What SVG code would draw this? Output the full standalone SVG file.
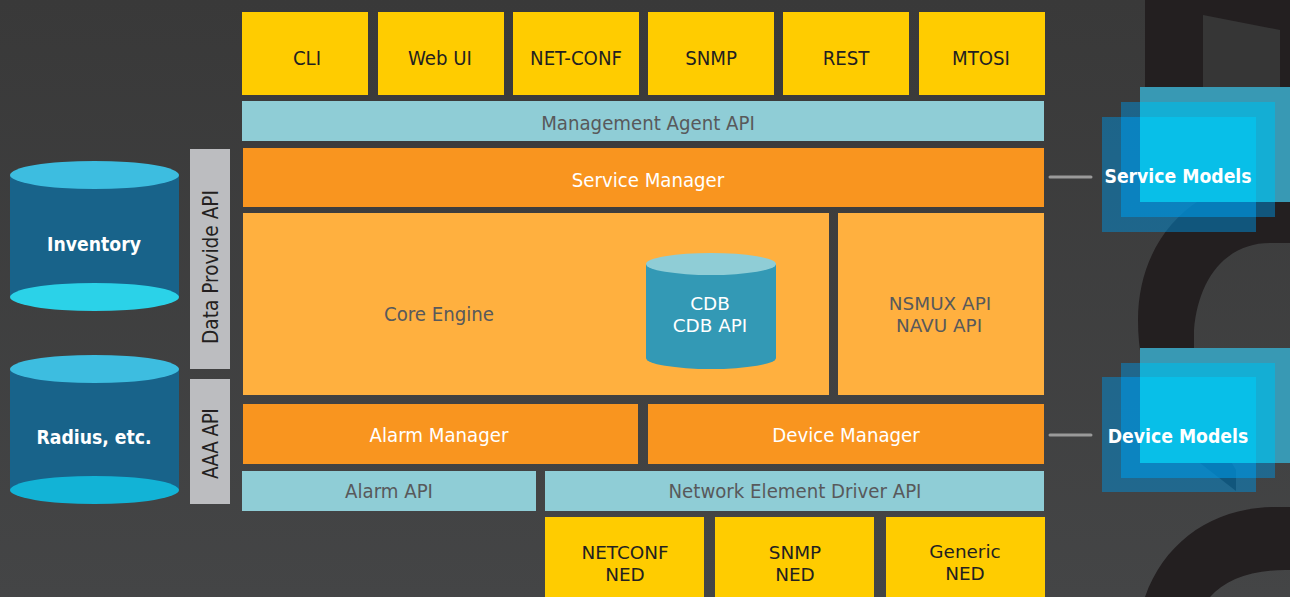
<svg xmlns="http://www.w3.org/2000/svg" width="1290" height="597" viewBox="0 0 1290 597">
<style>
text{font-family:"DejaVu Sans",sans-serif;font-stretch:condensed;font-size:20.2px;text-anchor:middle}
.d{fill:#231f20}.g{fill:#58595b}.w{fill:#fff}.b{font-weight:700;font-size:19.2px}
.r{font-size:20.6px}
.t{font-size:18.4px;font-stretch:normal}
.y{fill:#ffcc00}.a{fill:#8fcdd6}.o{fill:#f9951f}.c{fill:#ffb03f}.s{fill:#bcbdc0}
.cy{fill:#18638a}
.f{fill:#008ed8;fill-opacity:.5}.ov{fill:#00a0eb;fill-opacity:.25}
.bk{fill:#3899b4}.bm{fill:#14aed4}.bf{fill:#08bfe8}
.ln{stroke:#9a9a9a;stroke-width:3;stroke-linecap:round;fill:none}
</style>
<defs><linearGradient id="bg" x1="0" y1="0" x2="0" y2="1"><stop offset="0" stop-color="#393939"/><stop offset="1" stop-color="#444546"/></linearGradient></defs>
<rect width="1290" height="597" fill="url(#bg)"/>
<path fill="#231f20" d="M1145 0H1290V243H1270C1225 243 1198 280 1194 330V400L1236 470V491L1200 463C1160 430 1138 380 1138 320C1138 270 1160 225 1200 200V195H1145Z"/>
<path fill="#363636" d="M1203 15L1280 30V87H1203Z"/>
<path fill="#231f20" d="M1145 597C1165 540 1215 507 1275 507H1290V570H1285C1250 570 1225 580 1210 597Z"/>
<g id="connectors"><path class="ln" d="M1050 177H1091"/><path class="ln" d="M1050 435H1091"/></g>
<g id="cli"><rect class="y" x="242" y="12" width="126" height="83"/><text class="d" x="307" y="65">CLI</text></g>
<g id="webui"><rect class="y" x="378" y="12" width="126" height="83"/><text class="d" x="440" y="65">Web UI</text></g>
<g id="netconf"><rect class="y" x="513" y="12" width="126" height="83"/><text class="d" x="576" y="65">NET-CONF</text></g>
<g id="snmp"><rect class="y" x="648" y="12" width="126" height="83"/><text class="d" x="711" y="65">SNMP</text></g>
<g id="rest"><rect class="y" x="783" y="12" width="126" height="83"/><text class="d" x="846" y="65">REST</text></g>
<g id="mtosi"><rect class="y" x="919" y="12" width="126" height="83"/><text class="d" x="981" y="65">MTOSI</text></g>
<g id="mgmt-api"><rect class="a" x="242" y="101" width="802" height="40"/><text class="g" x="648" y="130">Management Agent API</text></g>
<g id="service-manager"><rect class="o" x="243" y="148" width="801" height="59"/><text class="w" x="648" y="187">Service Manager</text></g>
<g id="core-engine"><rect class="c" x="243" y="213" width="586" height="182"/><text class="g" x="439" y="321">Core Engine</text></g>
<g id="cdb"><path fill="#3399b5" d="M646 264V358A65 11 0 0 0 776 358V264Z"/><ellipse class="a" cx="711" cy="264" rx="65" ry="11"/><text class="w t"><tspan x="710" y="310">CDB</tspan><tspan x="710" y="331.500">CDB API</tspan></text></g>
<g id="nsmux"><rect class="c" x="838" y="213" width="206" height="182"/><text class="g t"><tspan x="940" y="310">NSMUX API</tspan><tspan x="939" y="331.500">NAVU API</tspan></text></g>
<g id="alarm-manager"><rect class="o" x="243" y="404" width="395" height="60"/><text class="w" x="439" y="442">Alarm Manager</text></g>
<g id="device-manager"><rect class="o" x="648" y="404" width="396" height="60"/><text class="w" x="846" y="442">Device Manager</text></g>
<g id="alarm-api"><rect class="a" x="242" y="471" width="294" height="40"/><text class="g" x="389" y="498">Alarm API</text></g>
<g id="ned-api"><rect class="a" x="545" y="471" width="499" height="40"/><text class="g" x="795" y="498">Network Element Driver API</text></g>
<g id="netconf-ned"><rect class="y" x="545" y="517" width="159" height="80"/><text class="d t"><tspan x="625" y="559">NETCONF</tspan><tspan x="625" y="580.500">NED</tspan></text></g>
<g id="snmp-ned"><rect class="y" x="715" y="517" width="159" height="80"/><text class="d t"><tspan x="795" y="559">SNMP</tspan><tspan x="795" y="580.500">NED</tspan></text></g>
<g id="generic-ned"><rect class="y" x="886" y="517" width="159" height="80"/><text class="d t"><tspan x="965" y="558">Generic</tspan><tspan x="965" y="579.500">NED</tspan></text></g>
<g id="data-provide-api"><rect class="s" x="190" y="149" width="40" height="220"/><text class="d r" transform="translate(218 267) rotate(-90)">Data Provide API</text></g>
<g id="aaa-api"><rect class="s" x="190" y="379" width="40" height="125"/><text class="d r" letter-spacing="-.6" transform="translate(218 444) rotate(-90)">AAA API</text></g>
<g id="inventory"><path class="cy" d="M10 175H179V297H10Z"/><ellipse cx="94.500" cy="175" rx="84.500" ry="14" fill="#3dbde0"/><ellipse cx="94.500" cy="297" rx="84.500" ry="14" fill="#2bd2e8"/><text class="w b" x="94" y="251">Inventory</text></g>
<g id="radius"><path class="cy" d="M10 369H179V490H10Z"/><ellipse cx="94.500" cy="369" rx="84.500" ry="14" fill="#3dbde0"/><ellipse cx="94.500" cy="490" rx="84.500" ry="14" fill="#12b3d6"/><text class="w b" x="94" y="444">Radius, etc.</text></g>
<g id="service-models">
<rect class="f" x="1102" y="117" width="154" height="115"/><rect class="f" x="1121" y="102" width="154" height="115"/><rect class="ov" x="1121" y="117" width="135" height="100"/>
<rect class="bk" x="1140" y="87" width="150" height="115"/><rect class="bm" x="1140" y="102" width="135" height="100"/><rect class="bf" x="1140" y="117" width="116" height="85"/>
<text class="w b" x="1178" y="183">Service Models</text></g>
<g id="device-models">
<rect class="f" x="1102" y="377" width="154" height="115"/><rect class="f" x="1121" y="363" width="154" height="115"/><rect class="ov" x="1121" y="377" width="135" height="101"/>
<rect class="bk" x="1140" y="348" width="150" height="115"/><rect class="bm" x="1140" y="363" width="135" height="100"/><rect class="bf" x="1140" y="377" width="116" height="86"/>
<text class="w b" x="1178" y="443">Device Models</text></g>
</svg>
